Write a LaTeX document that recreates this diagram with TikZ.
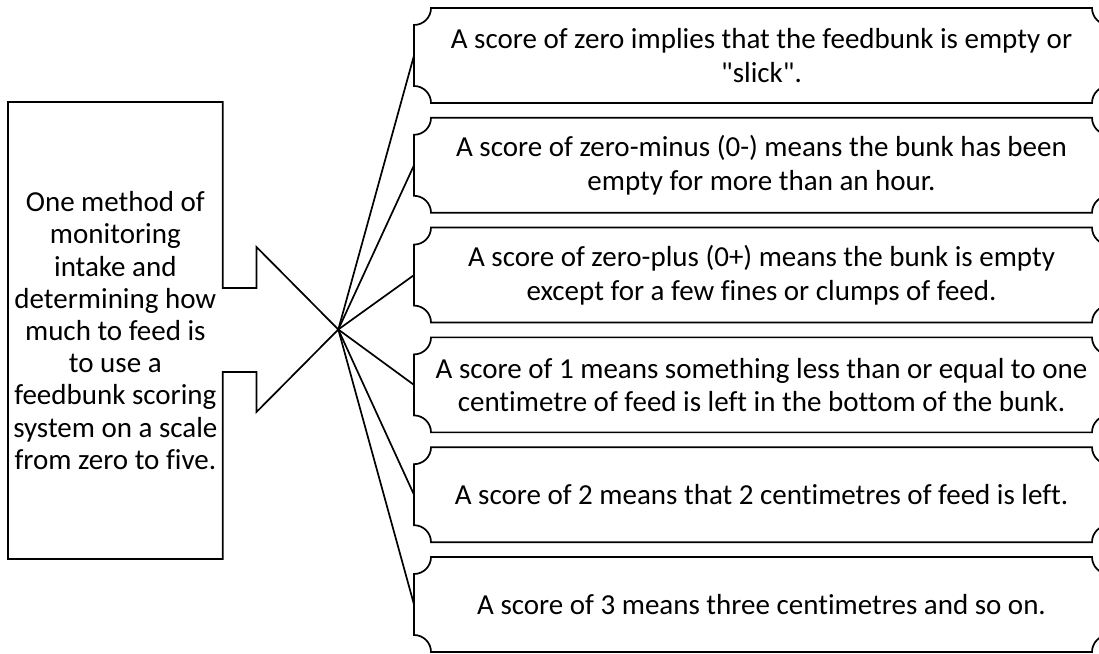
\documentclass[tikz,border=0pt]{standalone}
\usepackage{fontspec}
\setmainfont{Carlito}[Ligatures={TeXOff,NoCommon}]
\begin{document}
\begin{tikzpicture}[x=1pt,y=1pt,
  outline/.style={draw=black,line width=1.7pt,line join=miter},
  link/.style={draw=black,line width=1.7pt},
  plaquetext/.style={minimum width=695pt,minimum height=95pt,inner sep=0pt,outer sep=0pt,
    align=center,font=\fontsize{29}{33.3}\selectfont},
  srctext/.style={minimum width=214.7pt,minimum height=457pt,inner sep=0pt,outer sep=0pt,
    align=center,font=\fontsize{29}{32.2}\selectfont}]
\useasboundingbox (0,0) rectangle (1099,653);
\clip (0,0) rectangle (1099,653);

% concave-cornered plaque drawn around a named node
\newcommand\plaqueframe[1]{%
  \draw[outline] ([xshift=17pt]#1.north west) -- ([xshift=-17pt]#1.north east)
    arc[start angle=180,end angle=270,radius=17pt]
    -- ([yshift=17pt]#1.south east)
    arc[start angle=90,end angle=180,radius=17pt]
    -- ([xshift=17pt]#1.south west)
    arc[start angle=0,end angle=90,radius=17pt]
    -- ([yshift=-17pt]#1.north west)
    arc[start angle=270,end angle=360,radius=17pt] -- cycle;}

% the six score descriptions
\node[plaquetext] (b1) at (761.5,597.5) {A score of zero implies that the feedbunk is empty or\\"slick".};
\node[plaquetext] (b2) at (761.5,487.7) {A score of zero-minus (0-) means the bunk has been\\empty for more than an hour.};
\node[plaquetext] (b3) at (761.5,377.9) {A score of zero-plus (0+) means the bunk is empty\\except for a few fines or clumps of feed.};
\node[plaquetext] (b4) at (761.5,268.1) {A score of 1 means something less than or equal to one\\centimetre of feed is left in the bottom of the bunk.};
\node[plaquetext] (b5) at (761.5,158.3) {A score of 2 means that 2 centimetres of feed is left.};
\node[plaquetext] (b6) at (761.5,48.5) {A score of 3 means three centimetres and so on.};
\foreach \b in {b1,b2,b3,b4,b5,b6} {\plaqueframe{\b}}

% the arrow-shaped callout on the left
\node[srctext] (src) at (115.35,322.5) {One method of\\monitoring\\intake and\\determining how\\much to feed is\\to use a\\feedbunk scoring\\system on a scale\\from zero to five.};
\coordinate (tip) at (338.3,323.5);
\draw[outline] (src.north west) -- (src.north east) -- (src.east |- 0,365)
  -- (256.5,365) -- (256.5,406) -- (tip) -- (256.5,241) -- (256.5,281)
  -- (src.east |- 0,281) -- (src.south east) -- (src.south west) -- cycle;

% connectors from the arrow tip to each plaque
\foreach \b in {b1,b2,b3,b4,b5,b6} {\draw[link] (tip) -- (\b.west);}
\end{tikzpicture}
\end{document}
